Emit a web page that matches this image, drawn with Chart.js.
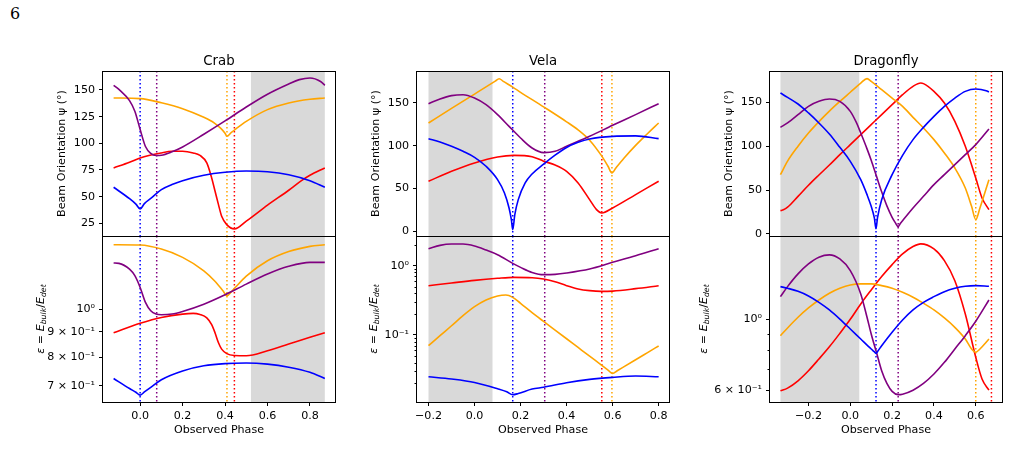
<!DOCTYPE html>
<html>
<head>
<meta charset="utf-8">
<script src="https://cdn.jsdelivr.net/npm/chart.js@4.4.0/dist/chart.umd.min.js"></script>
<style>
  body { margin: 0; background: #fff; width: 1009px; height: 469px; position: relative; overflow: hidden; }
  canvas { position: absolute; left: 0; top: 0; }
  #page { position: absolute; left: 10px; top: 4px; font: 16px 'DejaVu Serif', serif; color: #000; }
</style>
</head>
<body>
<div id="page">6</div>
<script>
// series order everywhere: blue, purple, orange, red
const BLUE = '#0000ff', PURPLE = '#800080', ORANGE = '#ffa500', RED = '#ff0000';
const seriesColors = [BLUE, PURPLE, ORANGE, RED];

// ---- Crab ----
const crabPsiBlue = [[-0.125,58.8],[-0.05,48.1],[-0.02,43],[0,38.4],[0.02,43.5],[0.05,48.3],[0.1,56.6],[0.15,61.3],[0.2,65],[0.3,70],[0.4,72.8],[0.5,74],[0.6,73.4],[0.7,70.6],[0.8,65],[0.87,58.8]];
const crabPsiPurple = [[-0.125,154.4],[-0.1,150.6],[-0.05,140],[-0.025,130],[0,113],[0.025,97],[0.05,90.5],[0.075,88.6],[0.1,88.8],[0.15,92],[0.2,96.6],[0.3,108.5],[0.4,121],[0.5,134],[0.6,146],[0.7,155.6],[0.75,159.7],[0.8,161.3],[0.85,158],[0.87,154.4]];
const crabPsiOrange = [[-0.125,142.5],[0,141.9],[0.1,138],[0.2,132.5],[0.3,124.4],[0.35,119],[0.38,114],[0.4,109.5],[0.409,106.6],[0.43,110.3],[0.45,113.4],[0.5,120.6],[0.6,131.6],[0.7,137.8],[0.8,141.3],[0.87,142.5]];
const crabPsiRed = [[-0.125,76.9],[-0.05,82.2],[0,86.3],[0.1,91],[0.15,92.5],[0.2,92.5],[0.25,91],[0.282,88.7],[0.314,81.6],[0.337,67.5],[0.353,55],[0.369,42.5],[0.384,31.6],[0.408,23.8],[0.444,19.7],[0.5,27],[0.6,42],[0.7,56],[0.76,65],[0.8,70],[0.87,76.9]];

const crabEpsBlue = [[-0.125,0.724],[-0.05,0.691],[-0.02,0.679],[0,0.670],[0.02,0.680],[0.05,0.695],[0.1,0.72],[0.2,0.75],[0.3,0.768],[0.4,0.776],[0.5,0.778],[0.6,0.774],[0.7,0.763],[0.8,0.745],[0.87,0.724]];
const crabEpsPurple = [[-0.125,1.239],[-0.1,1.237],[-0.05,1.204],[-0.025,1.168],[0,1.106],[0.025,1.032],[0.05,0.992],[0.075,0.977],[0.1,0.974],[0.15,0.977],[0.2,0.989],[0.3,1.023],[0.4,1.069],[0.5,1.123],[0.6,1.177],[0.7,1.22],[0.8,1.243],[0.87,1.243]];
const crabEpsOrange = [[-0.125,1.349],[0,1.347],[0.1,1.322],[0.2,1.272],[0.3,1.195],[0.35,1.141],[0.39,1.089],[0.409,1.064],[0.43,1.084],[0.45,1.108],[0.5,1.166],[0.6,1.252],[0.7,1.307],[0.8,1.339],[0.87,1.349]];
const crabEpsRed = [[-0.125,0.896],[0,0.936],[0.1,0.962],[0.2,0.977],[0.25,0.98],[0.282,0.975],[0.314,0.96],[0.337,0.93],[0.353,0.895],[0.369,0.855],[0.384,0.83],[0.408,0.813],[0.444,0.806],[0.5,0.805],[0.6,0.824],[0.7,0.85],[0.8,0.877],[0.87,0.896]];

// ---- Vela ----
const velaPsiBlue = [[-0.2,108.3],[-0.15,104.4],[-0.1,99.4],[-0.05,93.5],[0,86.5],[0.05,76],[0.1,60.4],[0.13,44.8],[0.15,27.3],[0.16,13.6],[0.166,2],[0.175,19.5],[0.19,37],[0.22,56.5],[0.25,67],[0.3,78.5],[0.35,89],[0.4,98],[0.45,104],[0.5,108],[0.6,111],[0.7,111.5],[0.8,108.3]];
const velaPsiPurple = [[-0.2,149.2],[-0.15,154.7],[-0.1,158.6],[-0.05,159.7],[0,155.8],[0.05,148],[0.1,136.4],[0.15,122.7],[0.2,109.1],[0.25,97.4],[0.3,92],[0.35,93.5],[0.4,99.4],[0.5,111],[0.6,123.9],[0.7,136.4],[0.8,149.2]];
const velaPsiOrange = [[-0.2,126.6],[-0.1,143.7],[0,160.4],[0.09,175.5],[0.107,178.4],[0.125,175.3],[0.166,168.5],[0.2,162.5],[0.3,145.5],[0.4,128],[0.45,118.5],[0.5,106.5],[0.55,89],[0.58,76],[0.597,68.2],[0.615,74.3],[0.65,85.7],[0.7,100.5],[0.75,113.8],[0.8,126.6]];
const velaPsiRed = [[-0.2,58.5],[-0.1,70.1],[0,79.9],[0.1,86.9],[0.17,88.8],[0.25,87.2],[0.3,82],[0.35,77.5],[0.4,70.1],[0.45,56.5],[0.5,37],[0.53,25.3],[0.553,21.4],[0.6,27.3],[0.7,42.9],[0.8,58.5]];

const velaEpsBlue = [[-0.2,0.025],[-0.1,0.0232],[0,0.0207],[0.1,0.0168],[0.14,0.0152],[0.166,0.01376],[0.19,0.0143],[0.25,0.0166],[0.3,0.0176],[0.4,0.0205],[0.5,0.0229],[0.6,0.0245],[0.7,0.0256],[0.8,0.025]];
const velaEpsPurple = [[-0.2,1.76],[-0.15,1.965],[-0.1,2.05],[-0.05,2.05],[0,1.92],[0.05,1.68],[0.1,1.44],[0.166,1.08],[0.2,0.946],[0.25,0.80],[0.3,0.742],[0.35,0.75],[0.4,0.784],[0.5,0.895],[0.6,1.117],[0.7,1.39],[0.8,1.76]];
const velaEpsOrange = [[-0.2,0.0701],[-0.15,0.0977],[-0.1,0.136],[-0.05,0.19],[0,0.256],[0.05,0.32],[0.1,0.365],[0.136,0.377],[0.166,0.349],[0.2,0.286],[0.25,0.21],[0.3,0.157],[0.35,0.1178],[0.4,0.0883],[0.45,0.0661],[0.5,0.0495],[0.55,0.0372],[0.58,0.0312],[0.6,0.0278],[0.62,0.0305],[0.65,0.035],[0.7,0.044],[0.75,0.0553],[0.8,0.0695]];
const velaEpsRed = [[-0.2,0.514],[-0.1,0.562],[0,0.614],[0.1,0.657],[0.17,0.679],[0.25,0.671],[0.3,0.642],[0.35,0.588],[0.4,0.514],[0.45,0.461],[0.5,0.436],[0.55,0.426],[0.6,0.43],[0.7,0.466],[0.8,0.514]];

// ---- Dragonfly ----
const dragPsiBlue = [[-0.334,160.6],[-0.3,155.7],[-0.25,148.1],[-0.2,137.9],[-0.15,126.5],[-0.1,113.9],[-0.05,98.7],[0,82.8],[0.05,61.9],[0.08,44.8],[0.1,31.5],[0.115,18.3],[0.123,6.1],[0.13,18.3],[0.15,39.1],[0.2,67.6],[0.25,89.6],[0.3,107.5],[0.35,121.5],[0.4,134],[0.45,145.4],[0.5,154.9],[0.55,162.5],[0.6,165.2],[0.65,163.3],[0.663,161.8]];
const dragPsiPurple = [[-0.334,121.5],[-0.3,126.5],[-0.25,136],[-0.2,145.4],[-0.15,151.1],[-0.1,153.8],[-0.05,151.1],[0,139.7],[0.03,126.5],[0.05,115],[0.08,97],[0.1,84],[0.125,66],[0.15,48],[0.175,32],[0.2,19],[0.215,13],[0.229,8.4],[0.24,12.2],[0.25,15.2],[0.3,29.7],[0.35,42.9],[0.4,56.2],[0.45,67.6],[0.5,79],[0.55,90.4],[0.6,101.8],[0.663,119.6]];
const dragPsiOrange = [[-0.334,67.6],[-0.3,83],[-0.25,100],[-0.2,115],[-0.15,128],[-0.1,140],[-0.05,151],[0,161.5],[0.05,172],[0.08,177],[0.1,173.9],[0.15,164.4],[0.2,154.9],[0.25,145.4],[0.3,132.9],[0.35,120.8],[0.4,107.5],[0.45,92.3],[0.5,75.2],[0.55,52.4],[0.58,31.5],[0.6,16.4],[0.62,29.7],[0.663,61.9]];
const dragPsiRed = [[-0.334,26.6],[-0.32,27.5],[-0.3,30.5],[-0.25,42.9],[-0.2,55.5],[-0.15,67.2],[-0.1,78.6],[-0.05,90.4],[0,101.8],[0.05,113.2],[0.1,124.6],[0.15,136],[0.2,147.3],[0.25,158.7],[0.3,168.2],[0.337,172],[0.35,171.3],[0.4,162.5],[0.45,149.2],[0.5,128.4],[0.55,99.9],[0.6,63.8],[0.63,41],[0.663,27.8]];

const dragEpsBlue = [[-0.334,1.265],[-0.3,1.25],[-0.25,1.223],[-0.2,1.183],[-0.15,1.13],[-0.1,1.07],[-0.05,1.002],[0,0.933],[0.05,0.868],[0.1,0.808],[0.113,0.794],[0.123,0.783],[0.133,0.798],[0.15,0.827],[0.2,0.911],[0.25,0.995],[0.3,1.07],[0.35,1.13],[0.4,1.177],[0.45,1.22],[0.5,1.25],[0.55,1.268],[0.6,1.274],[0.663,1.268]];
const dragEpsPurple = [[-0.334,1.177],[-0.3,1.265],[-0.25,1.386],[-0.2,1.489],[-0.15,1.563],[-0.1,1.589],[-0.05,1.543],[0,1.419],[0.05,1.2],[0.08,1.015],[0.1,0.9],[0.125,0.789],[0.15,0.691],[0.175,0.631],[0.2,0.596],[0.229,0.582],[0.25,0.584],[0.3,0.601],[0.35,0.631],[0.4,0.675],[0.45,0.734],[0.5,0.808],[0.55,0.889],[0.6,0.986],[0.663,1.149]];
const dragEpsOrange = [[-0.334,0.889],[-0.3,0.94],[-0.25,1.015],[-0.2,1.085],[-0.15,1.149],[-0.1,1.206],[-0.05,1.25],[0,1.28],[0.05,1.29],[0.1,1.29],[0.15,1.274],[0.2,1.25],[0.25,1.214],[0.3,1.172],[0.35,1.122],[0.4,1.07],[0.45,1.01],[0.5,0.944],[0.55,0.868],[0.58,0.808],[0.6,0.789],[0.62,0.808],[0.663,0.868]];
const dragEpsRed = [[-0.334,0.598],[-0.3,0.61],[-0.25,0.643],[-0.2,0.691],[-0.15,0.752],[-0.1,0.821],[-0.05,0.904],[0,1.0],[0.05,1.117],[0.1,1.235],[0.15,1.36],[0.2,1.482],[0.25,1.6],[0.3,1.687],[0.337,1.72],[0.4,1.659],[0.45,1.525],[0.5,1.32],[0.55,1.039],[0.6,0.761],[0.63,0.651],[0.663,0.601]];

// dotted marker phases [blue, purple, orange, red] and shaded phase spans
const crabMarks = [0, 0.078, 0.409, 0.444];
const velaMarks = [0.166, 0.305, 0.597, 0.553];
const dragMarks = [0.123, 0.229, 0.6, 0.675];
const crabShade = [0.522, 0.87];
const velaShade = [-0.2, 0.078];
const dragShade = [-0.334, 0.043];

// ticks
const crabPhaseTicks = [0, 0.2, 0.4, 0.6, 0.8];
const crabPhaseLabels = ['0.0', '0.2', '0.4', '0.6', '0.8'];
const velaPhaseTicks = [-0.2, 0, 0.2, 0.4, 0.6, 0.8];
const velaPhaseLabels = ['\u22120.2', '0.0', '0.2', '0.4', '0.6', '0.8'];
const dragPhaseTicks = [-0.2, 0, 0.2, 0.4, 0.6];
const dragPhaseLabels = ['\u22120.2', '0.0', '0.2', '0.4', '0.6'];

const crabPsiTicks = [25, 50, 75, 100, 125, 150];
const velaPsiTicks = [0, 50, 100, 150];
const dragPsiTicks = [0, 50, 100, 150];

const crabEpsTicks = [0.7, 0.8, 0.9, 1];
const crabEpsLabels = ['7 \u00d7 10\u207b\u00b9', '8 \u00d7 10\u207b\u00b9', '9 \u00d7 10\u207b\u00b9', '10\u2070'];
const crabEpsMinor = [];
const velaEpsTicks = [0.1, 1];
const velaEpsLabels = ['10\u207b\u00b9', '10\u2070'];
const velaEpsMinor = [0.02, 0.03, 0.04, 0.05, 0.06, 0.07, 0.08, 0.09, 0.2, 0.3, 0.4, 0.5, 0.6, 0.7, 0.8, 0.9, 2];
const dragEpsTicks = [0.6, 1];
const dragEpsLabels = ['6 \u00d7 10\u207b\u00b9', '10\u2070'];
const dragEpsMinor = [0.7, 0.8, 0.9];

const FONT = 'DejaVu Sans';
const FS = 11.1;
const TOP = 71, MID = 236, BOT = 402;
const W = 1009, H = 469;

function drawEps(ctx, bx, cy) {
  const sub = FS * 0.7, dy = FS * 0.22;
  const parts = [['\u03b5', 'italic', FS, 0], [' = ', 'normal', FS, 0], ['E', 'italic', FS, 0], ['bulk', 'italic', sub, dy],
                 ['/', 'normal', FS, 0], ['E', 'italic', FS, 0], ['det', 'italic', sub, dy]];
  ctx.save();
  ctx.translate(bx, cy);
  ctx.rotate(-Math.PI / 2);
  let total = 0;
  parts.forEach(p => { ctx.font = `${p[1]} ${p[2]}px "${FONT}"`; p.w = ctx.measureText(p[0]).width; total += p.w; });
  let x = -total / 2;
  ctx.fillStyle = '#000';
  ctx.textBaseline = 'alphabetic';
  parts.forEach(p => { ctx.font = `${p[1]} ${p[2]}px "${FONT}"`; ctx.fillText(p[0], x, p[3]); x += p.w; });
  ctx.restore();
}

function addPanel(o) {
  const cv = document.createElement('canvas');
  cv.width = W; cv.height = H;
  document.body.appendChild(cv);
  const bottom = o.T === MID;
  const yw = bottom ? 80 : 48;

  const deco = {
    id: 'deco',
    beforeDatasetsDraw(chart) {
      const {ctx, chartArea: a, scales} = chart;
      const xs = scales.x;
      ctx.save();
      ctx.fillStyle = '#d9d9d9';
      const s0 = xs.getPixelForValue(o.shade[0]), s1 = xs.getPixelForValue(o.shade[1]);
      ctx.fillRect(s0, a.top, s1 - s0, a.bottom - a.top);
      ctx.lineWidth = 1.5;
      ctx.setLineDash([1.5, 2.5]);
      o.marks.forEach((m, i) => {
        const px = xs.getPixelForValue(m);
        ctx.strokeStyle = seriesColors[i];
        ctx.beginPath();
        ctx.moveTo(px, a.top);
        ctx.lineTo(px, a.bottom);
        ctx.stroke();
      });
      ctx.restore();
    },
    afterDraw(chart) {
      const {ctx, chartArea: a, scales} = chart;
      ctx.save();
      ctx.strokeStyle = '#000';
      ctx.lineWidth = 1;
      ctx.strokeRect(Math.round(a.left) - 0.5, Math.round(a.top) + 0.5, Math.round(a.right - a.left) + 1, Math.round(a.bottom - a.top));
      (o.yMinor || []).forEach(v => {
        const py = Math.round(scales.y.getPixelForValue(v)) + 0.5;
        ctx.beginPath();
        ctx.moveTo(a.left - 2.5, py);
        ctx.lineTo(a.left, py);
        ctx.stroke();
      });
      if (o.title) {
        ctx.fillStyle = '#000';
        ctx.font = `13.3px "${FONT}"`;
        ctx.textAlign = 'center';
        ctx.textBaseline = 'middle';
        ctx.fillText(o.title, (a.left + a.right) / 2, a.top - 9.5);
      }
      if (o.epsX) drawEps(ctx, o.epsX, (a.top + a.bottom) / 2);
      ctx.restore();
    }
  };

  const font = {family: FONT, size: FS};
  new Chart(cv, {
    type: 'line',
    data: {
      datasets: o.series.map((pts, i) => ({
        data: pts.map(p => ({x: p[0], y: p[1]})),
        borderColor: seriesColors[i],
        borderWidth: 1.6,
        pointRadius: 0,
        cubicInterpolationMode: 'monotone',
        fill: false
      }))
    },
    options: {
      responsive: false,
      animation: false,
      devicePixelRatio: 1,
      layout: {padding: {left: o.L - yw, right: W - o.R, top: o.T, bottom: bottom ? H - BOT - 36 : H - MID}},
      plugins: {legend: {display: false}, title: {display: false}, tooltip: {enabled: false}},
      scales: {
        x: {
          type: 'linear',
          min: o.xMin, max: o.xMax,
          display: bottom,
          afterBuildTicks: s => { s.ticks = o.xTicks.map(v => ({value: v})); },
          afterFit: s => { if (bottom) s.height = 36; },
          ticks: {autoSkip: false, maxRotation: 0, padding: 3, color: '#000', font,
                  callback: (v, i) => o.xLabels[i]},
          grid: {display: true, drawOnChartArea: false, drawTicks: true, tickLength: 4, tickColor: '#000', tickWidth: 1},
          border: {display: false},
          title: {display: true, text: 'Observed Phase', color: '#000', font, padding: {top: 0, bottom: 1.3}}
        },
        y: {
          type: o.yType,
          min: o.yMin, max: o.yMax,
          afterBuildTicks: s => { s.ticks = o.yTicks.map(v => ({value: v})); },
          afterFit: s => { s.width = yw; },
          ticks: {autoSkip: false, padding: 4, color: '#000', font,
                  callback: (v, i) => o.yLabels[i]},
          grid: {display: true, drawOnChartArea: false, drawTicks: true, tickLength: 4, tickColor: '#000', tickWidth: 1},
          border: {display: false},
          title: {display: !bottom, text: 'Beam Orientation \u03c8 (\u00b0)', color: '#000', font, padding: {top: 0, bottom: 0}}
        }
      }
    },
    plugins: [deco]
  });
}

const columns = [
  {name: 'Crab', L: 103, R: 335, xMin: -0.175, xMax: 0.918, xTicks: crabPhaseTicks, xLabels: crabPhaseLabels,
   marks: crabMarks, shade: crabShade, psi: [crabPsiBlue, crabPsiPurple, crabPsiOrange, crabPsiRed], psiRange: [13.1, 167.8], psiTicks: crabPsiTicks,
   eps: [crabEpsBlue, crabEpsPurple, crabEpsOrange, crabEpsRed], epsRange: [0.649, 1.405], epsTicks: crabEpsTicks, epsLabels: crabEpsLabels, epsMinor: crabEpsMinor, epsX: 43.5},
  {name: 'Vela', L: 417, R: 669, xMin: -0.25, xMax: 0.845, xTicks: velaPhaseTicks, xLabels: velaPhaseLabels,
   marks: velaMarks, shade: velaShade, psi: [velaPsiBlue, velaPsiPurple, velaPsiOrange, velaPsiRed], psiRange: [-5.5, 187.4], psiTicks: velaPsiTicks,
   eps: [velaEpsBlue, velaEpsPurple, velaEpsOrange, velaEpsRed], epsRange: [0.0108, 2.68], epsTicks: velaEpsTicks, epsLabels: velaEpsLabels, epsMinor: velaEpsMinor, epsX: 377},
  {name: 'Dragonfly', L: 770, R: 1002, xMin: -0.384, xMax: 0.7255, xTicks: dragPhaseTicks, xLabels: dragPhaseLabels,
   marks: dragMarks, shade: dragShade, psi: [dragPsiBlue, dragPsiPurple, dragPsiOrange, dragPsiRed], psiRange: [-2.3, 185.7], psiTicks: dragPsiTicks,
   eps: [dragEpsBlue, dragEpsPurple, dragEpsOrange, dragEpsRed], epsRange: [0.552, 1.82], epsTicks: dragEpsTicks, epsLabels: dragEpsLabels, epsMinor: dragEpsMinor, epsX: 707}
];

columns.forEach(c => {
  addPanel({L: c.L, R: c.R, T: TOP, xMin: c.xMin, xMax: c.xMax, xTicks: c.xTicks, xLabels: c.xLabels,
            marks: c.marks, shade: c.shade, series: c.psi, title: c.name,
            yType: 'linear', yMin: c.psiRange[0], yMax: c.psiRange[1], yTicks: c.psiTicks, yLabels: c.psiTicks.map(String)});
  addPanel({L: c.L, R: c.R, T: MID, xMin: c.xMin, xMax: c.xMax, xTicks: c.xTicks, xLabels: c.xLabels,
            marks: c.marks, shade: c.shade, series: c.eps, epsX: c.epsX,
            yType: 'logarithmic', yMin: c.epsRange[0], yMax: c.epsRange[1], yTicks: c.epsTicks, yLabels: c.epsLabels, yMinor: c.epsMinor});
});
</script>
</body>
</html>
